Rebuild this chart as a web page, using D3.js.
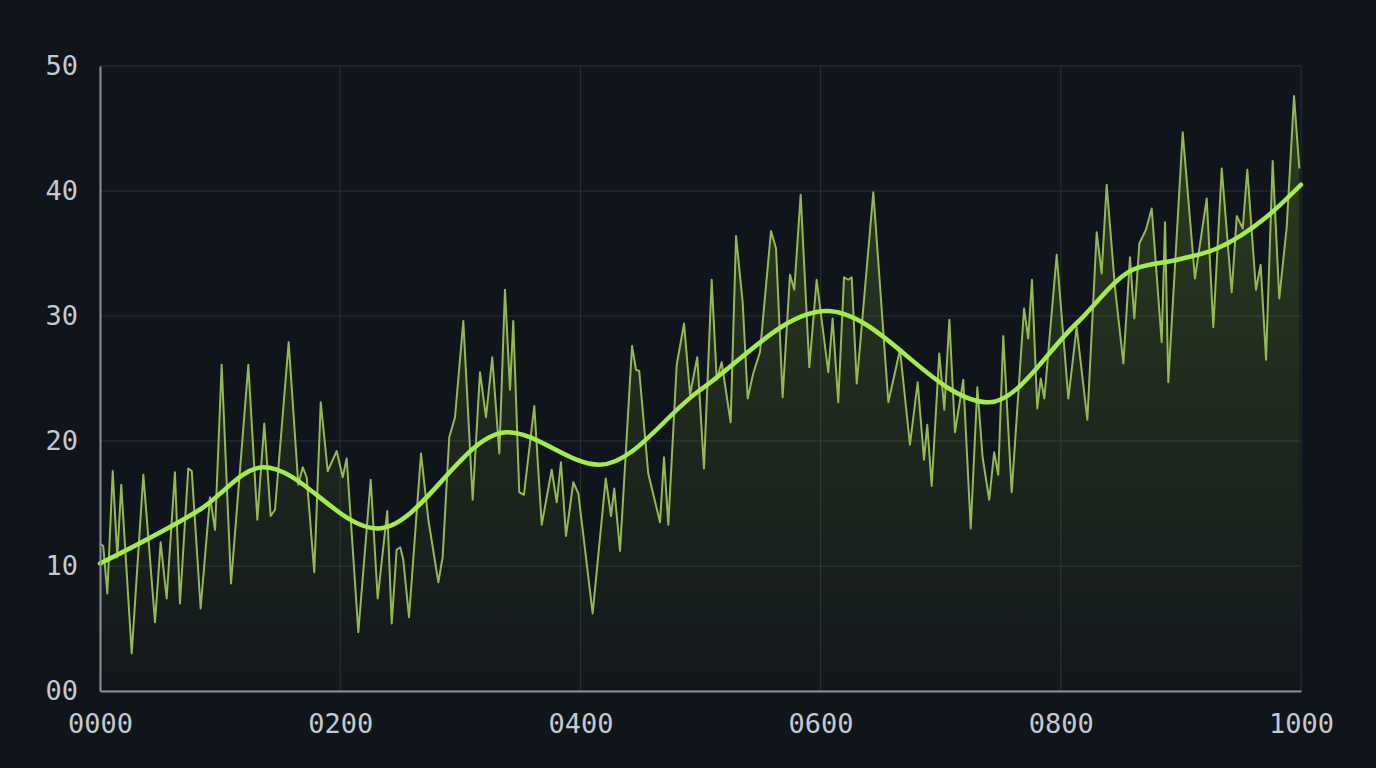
<!DOCTYPE html>
<html lang="en">
<head>
<meta charset="utf-8">
<title>signal</title>
<script src="https://cdn.jsdelivr.net/npm/d3@7"></script>
<style>
  html, body { margin: 0; padding: 0; background: #10141b; }
  svg { display: block; }
  .tick text { font-family: "DejaVu Sans Mono", monospace; fill: #c5c9cf; }
</style>
</head>
<body>
<svg id="chart" width="1376" height="768"></svg>
<script>
// raw signal (x position, value)
var rawX = [0, 2.7, 6.1, 10.6, 14.4, 17.7, 26.4, 36.1, 45.8, 50.5, 55.5, 62.4, 66.6, 73.5, 76.4, 83.8, 91.6, 95.8,
  101.3, 109.1, 123.5, 131.0, 136.8, 142.1, 145.7, 157.1, 165.1, 168.8, 172.1, 178.4, 183.8, 189.6, 197.1,
  202.1, 205.4, 215.1, 225.4, 231.2, 239.2, 242.9, 247.0, 250, 252.5, 257.3, 267.3, 273.4, 281.7, 285.3,
  290.8, 295.6, 302.5, 310.3, 316.4, 321.4, 326.6, 332.5, 337.2, 341.4, 344.1, 349.1, 353.0, 361.6, 367.8,
  376.1, 380.3, 383.8, 388.0, 394.1, 398.3, 410.2, 421.1, 425.5, 428.2, 433.0, 443.0, 446.3, 449.0, 456.5,
  466.3, 469.6, 473.2, 480.2, 486.3, 491.3, 497.3, 502.9, 509.3, 513.5, 517.6, 525.1, 529.6, 535.1, 539.3,
  543.9, 549.5, 558.7, 562.9, 568.4, 574.5, 578.1, 583.4, 590.6, 596.7, 606.4, 610.0, 614.7, 619.5, 623.1,
  625.9, 630.1, 643.9, 656.4, 666.1, 674.4, 680.8, 686.1, 688.8, 692.5, 698.8, 703.0, 707.2, 711.9, 718.8,
  725.0, 730.5, 734.9, 740.4, 744.5, 747.9, 752.1, 759.1, 769.4, 772.9, 776.0, 780.4, 783.3, 786.3, 796.6,
  806.3, 813.2, 822.1, 829.9, 834.0, 838.2, 845.1, 852.1, 857.6, 861.2, 865.4, 870.9, 875.7, 884.0, 886.8,
  889.5, 901.5, 911.7, 921.5, 927.0, 934.0, 942.3, 946.5, 951.5, 955.3, 962.5, 966.4, 970.9, 976.4, 981.9,
  988.1, 994.2, 998.6];
var rawY = [11.8, 11.6, 7.8, 17.6, 10.7, 16.5, 3.0, 17.3, 5.5, 11.9, 7.4, 17.5, 7.0, 17.8, 17.6, 6.6, 15.5, 12.9,
  26.1, 8.6, 26.1, 13.7, 21.4, 14.0, 14.5, 27.9, 16.5, 17.9, 17.1, 9.5, 23.1, 17.6, 19.2,
  17.1, 18.6, 4.7, 16.9, 7.4, 14.4, 5.4, 11.3, 11.5, 10.5, 5.9, 19.0, 13.7, 8.7, 10.7,
  20.3, 21.9, 29.6, 15.3, 25.5, 21.9, 26.7, 19.0, 32.1, 24.1, 29.6, 15.9, 15.7, 22.8, 13.3,
  17.7, 15.1, 18.3, 12.4, 16.7, 15.8, 6.2, 17.0, 14.0, 16.2, 11.2, 27.6, 25.7, 25.6, 17.4,
  13.5, 18.7, 13.3, 26.1, 29.4, 23.7, 26.7, 17.8, 32.9, 24.9, 26.3, 21.5, 36.4, 31.1, 23.4,
  25.4, 27.1, 36.8, 35.4, 23.5, 33.3, 32.1, 39.7, 25.9, 32.9, 25.5, 29.8, 23.1, 33.1, 32.9,
  33.1, 24.6, 39.9, 23.1, 27.3, 19.7, 24.7, 18.5, 21.3, 16.4, 27.0, 22.5, 29.7, 20.7, 24.9,
  13.0, 24.3, 18.7, 15.3, 19.1, 17.3, 28.4, 15.9, 30.6, 28.2, 32.9, 22.6, 25.0, 23.4, 34.9,
  23.4, 29.1, 21.7, 36.7, 33.4, 40.5, 32.3, 26.2, 34.7, 29.8, 35.8, 36.9, 38.6, 27.9, 37.5,
  24.7, 44.7, 33.0, 39.4, 29.1, 41.8, 31.9, 38.0, 37.0, 41.7, 32.1, 34.1, 26.5, 42.4, 31.4,
  37.1, 47.6, 41.8];

// smooth trend, key points
var trendX = [0, 83, 136, 231, 339, 416, 500, 605, 740, 813, 860, 897, 930, 971, 1000];
var trendY = [10.2, 14.5, 17.9, 13.0, 20.7, 18.1, 24.1, 30.4, 23.1, 29.4, 33.7, 34.5, 35.4, 37.9, 40.5];

var xTicks = [0, 200, 400, 600, 800, 1000];
var yTicks = [0, 10, 20, 30, 40, 50];

var margin = {top: 66, right: 75, bottom: 77, left: 100},
    width = 1376 - margin.left - margin.right,
    height = 768 - margin.top - margin.bottom;

var svg = d3.select("#chart");
var g = svg.append("g").attr("transform", "translate(" + margin.left + "," + margin.top + ")");

var x = d3.scaleLinear().domain([0, 1000]).range([0, width]);
var y = d3.scaleLinear().domain([0, 50]).range([height, 0]);

var raw = rawX.map(function(d, i) { return {x: d, y: rawY[i]}; });
var trend = trendX.map(function(d, i) { return {x: d, y: trendY[i]}; });

// gradient under the raw signal
var grad = svg.append("defs").append("linearGradient")
  .attr("id", "fillGrad")
  .attr("gradientUnits", "userSpaceOnUse")
  .attr("x1", 0).attr("x2", 0)
  .attr("y1", 0).attr("y2", height);
grad.append("stop").attr("offset", "0%").attr("stop-color", "#a3e635").attr("stop-opacity", 0.21);
grad.append("stop").attr("offset", "100%").attr("stop-color", "#a3e635").attr("stop-opacity", 0.012);

// grid
g.append("g")
  .selectAll("line")
  .data(yTicks)
  .enter().append("line")
    .attr("x1", 0).attr("x2", width)
    .attr("y1", function(d) { return y(d); })
    .attr("y2", function(d) { return y(d); })
    .attr("stroke", "#2b3037").attr("stroke-width", 1);
g.append("g")
  .selectAll("line")
  .data(xTicks)
  .enter().append("line")
    .attr("y1", 0).attr("y2", height)
    .attr("x1", function(d) { return x(d); })
    .attr("x2", function(d) { return x(d); })
    .attr("stroke", "#2b3037").attr("stroke-width", 1);

// area + raw line
g.append("path")
  .datum(raw)
  .attr("fill", "url(#fillGrad)")
  .attr("d", d3.area().x(function(d) { return x(d.x); }).y0(height).y1(function(d) { return y(d.y); }));

g.append("path")
  .datum(raw)
  .attr("fill", "none")
  .attr("stroke", "#94b953")
  .attr("stroke-width", 2)
  .attr("stroke-linejoin", "round")
  .attr("d", d3.line().x(function(d) { return x(d.x); }).y(function(d) { return y(d.y); }));

// smooth trend
g.append("path")
  .datum(trend)
  .attr("fill", "none")
  .attr("stroke", "#a4ec4c")
  .attr("stroke-width", 4.5)
  .attr("stroke-linecap", "round")
  .attr("d", d3.line().curve(d3.curveMonotoneX).x(function(d) { return x(d.x); }).y(function(d) { return y(d.y); }));

// axes
var xAxis = g.append("g")
  .attr("transform", "translate(0," + height + ")")
  .call(d3.axisBottom(x).tickValues(xTicks).tickFormat(d3.format("04d")).tickSize(0).tickPadding(23));
var yAxis = g.append("g")
  .call(d3.axisLeft(y).tickValues(yTicks).tickFormat(d3.format("02d")).tickSize(0).tickPadding(22));

[xAxis, yAxis].forEach(function(a) {
  a.select(".domain").attr("stroke", "#8b9097").attr("stroke-width", 2);
  a.selectAll(".tick text").style("font-size", "27px");
});
</script>
</body>
</html>
